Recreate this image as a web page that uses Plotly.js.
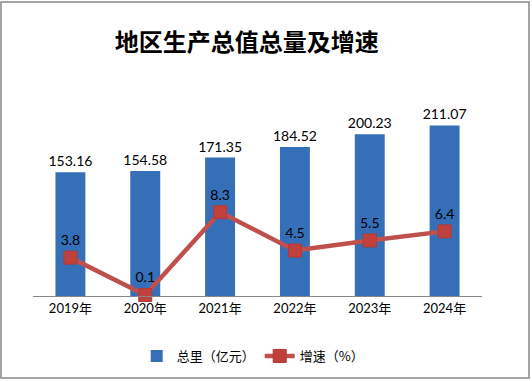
<!DOCTYPE html>
<html>
<head>
<meta charset="utf-8">
<script src="https://cdn.plot.ly/plotly-3.0.1.min.js"></script>
<style>html,body{margin:0;padding:0;background:#fff;}#chart{width:532px;height:381px;}</style>
</head>
<body>
<div id="chart"></div>
<script>
var categories = ["2019年", "2020年", "2021年", "2022年", "2023年", "2024年"];
var totalValues = [153.16, 154.58, 171.35, 184.52, 200.23, 211.07];
var growthValues = [3.8, 0.1, 8.3, 4.5, 5.5, 6.4];
var barName = "总里（亿元）";
var lineName = "增速（%）";
var chartTitle = "地区生产总值总量及增速";

var FONT = "Lato, 'Noto Sans CJK SC', sans-serif";

var bars = {
  type: "bar",
  x: categories,
  y: totalValues,
  name: barName,
  text: totalValues.map(function(v){ return v.toFixed(2); }),
  textposition: "outside",
  constraintext: "none",
  textfont: {family: FONT, size: 14, color: "#000"},
  cliponaxis: false,
  marker: {color: "#356FB8", line: {width: 0}},
  hoverinfo: "skip"
};

var line = {
  type: "scatter",
  mode: "lines+markers+text",
  x: categories,
  y: growthValues,
  yaxis: "y2",
  name: lineName,
  text: growthValues.map(function(v){ return v.toFixed(1); }),
  textposition: "top center",
  textfont: {family: FONT, size: 14, color: "#000"},
  cliponaxis: false,
  line: {color: "#C0504D", width: 4.5},
  marker: {symbol: "square", size: 13, color: "#C0403C", line: {color: "#B03A36", width: 1}},
  hoverinfo: "skip"
};

var layout = {
  width: 532,
  height: 381,
  margin: {l: 33, r: 50, t: 94, b: 85},
  paper_bgcolor: "#fff",
  plot_bgcolor: "rgba(0,0,0,0)",
  font: {family: FONT, size: 12, color: "#000"},
  title: {
    text: "<b>" + chartTitle + "</b>",
    font: {family: "'Noto Sans CJK SC', sans-serif", size: 24, color: "#000"},
    x: 0.464, xref: "container", xanchor: "center",
    y: 1 - 43/381, yref: "container", yanchor: "middle"
  },
  bargap: 0.6,
  xaxis: {
    showgrid: false, zeroline: false,
    showline: true, linecolor: "#878787", linewidth: 1.3,
    ticks: "", tickfont: {family: FONT, size: 13, color: "#000"},
    fixedrange: true
  },
  yaxis: {
    range: [0, 250], visible: false, showgrid: false, zeroline: false, fixedrange: true
  },
  yaxis2: {
    range: [0, 20], overlaying: "y", side: "right", visible: false,
    showgrid: false, zeroline: false, fixedrange: true
  },
  showlegend: true,
  legend: {
    orientation: "h",
    x: 0.475, xref: "container", xanchor: "center",
    y: 1 - 356/381, yref: "container", yanchor: "middle",
    font: {family: "'Noto Sans CJK SC', sans-serif", size: 13, color: "#000"},
    itemwidth: 30,
    traceorder: "normal"
  },
  shapes: [{
    type: "rect", xref: "paper", yref: "paper",
    x0: -32/449, x1: 496/449,
    y0: -82/202, y1: (296-2)/202,
    line: {color: "#878787", width: 1.5},
    fillcolor: "rgba(0,0,0,0)", layer: "below"
  }]
};

Plotly.newPlot("chart", [bars, line], layout, {displayModeBar: false, staticPlot: true});
</script>
</body>
</html>
